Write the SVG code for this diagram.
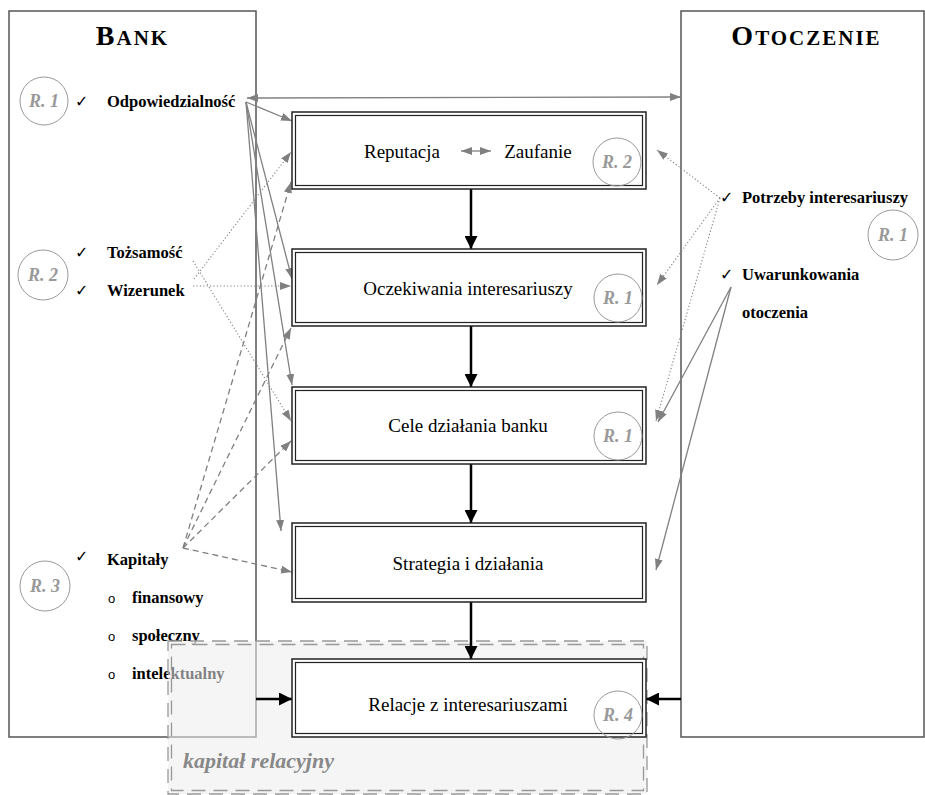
<svg xmlns="http://www.w3.org/2000/svg" width="925" height="795" viewBox="0 0 925 795">
  <defs>
    <marker id="ag" markerUnits="userSpaceOnUse" markerWidth="11" markerHeight="8" refX="11" refY="4" orient="auto-start-reverse">
      <path d="M0,0 L11,4 L0,8 z" fill="#808080"/>
    </marker>
    <marker id="ab" markerUnits="userSpaceOnUse" markerWidth="13" markerHeight="13" refX="13" refY="6.5" orient="auto">
      <path d="M0,0 L13,6.5 L0,13 z" fill="#000"/>
    </marker>
    <style>
      .frame { fill: #fff; stroke: #555; stroke-width: 1.5; }
      .title { font-family: "Liberation Serif", "Times New Roman", serif; font-weight: bold; fill: #000; letter-spacing: 2px; }
      .lbl { font-family: "Liberation Serif", "Times New Roman", serif; font-weight: bold; font-size: 16.5px; fill: #000; }
      .chk { font-family: "DejaVu Sans", sans-serif; font-size: 16px; font-weight: bold; fill: #000; }
      .bul { font-family: "Liberation Sans", Arial, sans-serif; font-size: 13px; fill: #000; }
      .ring { fill: none; stroke: #999; stroke-width: 1; }
      .rtxt { font-family: "Liberation Serif", "Times New Roman", serif; font-weight: bold; font-style: italic; font-size: 18px; fill: #999; text-anchor: middle; }
      .box { fill: #fff; stroke: #222; stroke-width: 1.5; }
      .boxin { fill: none; stroke: #222; stroke-width: 1.2; }
      .btxt { font-family: "Liberation Serif", "Times New Roman", serif; font-size: 19px; fill: #000; text-anchor: middle; }
      .gl { stroke: #808080; stroke-width: 1.3; fill: none; marker-end: url(#ag); }
      .dot { stroke-dasharray: 1.2 2.2; stroke-width: 1.1; }
      .dash { stroke-dasharray: 6 4; }
      .bl { stroke: #000; stroke-width: 2.5; fill: none; marker-end: url(#ab); }
      .zone { stroke: #999; stroke-width: 1.3; fill: none; stroke-dasharray: 14 8; }
    </style>
  </defs>

  <!-- Bank column -->
  <g id="bank">
    <rect class="frame" x="9" y="11" width="247" height="726"/>
    <text class="title" x="132.5" y="45" text-anchor="middle"><tspan font-size="28">B</tspan><tspan font-size="21">ANK</tspan></text>
    <circle class="ring" cx="44" cy="101" r="24"/>
    <text class="rtxt" x="44" y="107">R. 1</text>
    <text class="chk" x="75" y="107">✓</text>
    <text class="lbl" x="107" y="107">Odpowiedzialność</text>
    <circle class="ring" cx="43" cy="275" r="25"/>
    <text class="rtxt" x="43" y="281">R. 2</text>
    <text class="chk" x="75" y="258">✓</text>
    <text class="lbl" x="107" y="258">Tożsamość</text>
    <text class="chk" x="75" y="296">✓</text>
    <text class="lbl" x="107" y="296">Wizerunek</text>
    <circle class="ring" cx="45" cy="586" r="25"/>
    <text class="rtxt" x="45" y="592">R. 3</text>
    <text class="chk" x="75" y="562">✓</text>
    <text class="lbl" x="107" y="565">Kapitały</text>
    <text class="bul" x="108" y="603">o</text>
    <text class="lbl" x="132" y="603">finansowy</text>
    <text class="bul" x="108" y="641">o</text>
    <text class="lbl" x="132" y="641">społeczny</text>
    <text class="bul" x="108" y="679">o</text>
    <text class="lbl" x="132" y="679">intelektualny</text>
  </g>

  <!-- Environment column -->
  <g id="otoczenie">
    <rect class="frame" x="681" y="11" width="243" height="726"/>
    <text class="title" x="806.5" y="45" text-anchor="middle"><tspan font-size="28">O</tspan><tspan font-size="21">TOCZENIE</tspan></text>
    <text class="chk" x="720" y="203">✓</text>
    <text class="lbl" x="742" y="203">Potrzeby interesariuszy</text>
    <circle class="ring" cx="893" cy="235" r="25"/>
    <text class="rtxt" x="893" y="241">R. 1</text>
    <text class="chk" x="720" y="280">✓</text>
    <text class="lbl" x="742" y="280">Uwarunkowania</text>
    <text class="lbl" x="742" y="318">otoczenia</text>
  </g>

  <!-- relational capital zone -->
  <g id="kapital-relacyjny">
    <rect x="168" y="641" width="479" height="153" fill="#ececec" fill-opacity="0.55"/>
    <rect class="zone" x="168" y="641" width="479" height="153"/>
    <rect class="zone" x="171.5" y="644.5" width="472" height="146"/>
    <text x="183" y="768" font-family="Liberation Serif, Times New Roman, serif" font-weight="bold" font-style="italic" font-size="22" fill="#888">kapitał relacyjny</text>
  </g>

  <!-- connectors -->
  <g id="connectors">
    <!-- responsibility -->
    <line class="gl" x1="247" y1="98" x2="681" y2="97" marker-start="url(#ag)"/>
    <line class="gl" x1="246" y1="102" x2="292" y2="121"/>
    <line class="gl" x1="246" y1="102" x2="292" y2="279"/>
    <line class="gl" x1="246" y1="102" x2="292" y2="385"/>
    <line class="gl" x1="246" y1="102" x2="281" y2="531"/>
    <!-- identity / image -->
    <line class="gl dot" x1="193" y1="261" x2="291" y2="421"/>
    <line class="gl dot" x1="194" y1="279" x2="291" y2="152"/>
    <line class="gl dot" x1="193" y1="286" x2="291" y2="286"/>
    <!-- capitals -->
    <line class="gl dash" x1="183" y1="548" x2="291" y2="182"/>
    <line class="gl dash" x1="183" y1="548" x2="291" y2="328"/>
    <line class="gl dash" x1="183" y1="548" x2="291" y2="441"/>
    <line class="gl dash" x1="183" y1="548" x2="292" y2="572"/>
    <!-- stakeholder needs -->
    <line class="gl dot" x1="720" y1="198" x2="657" y2="150"/>
    <line class="gl dot" x1="720" y1="198" x2="657" y2="285"/>
    <line class="gl dot" x1="720" y1="198" x2="656" y2="421"/>
    <!-- environment conditions -->
    <line class="gl" x1="731" y1="287" x2="658" y2="422"/>
    <line class="gl" x1="731" y1="287" x2="656" y2="570"/>
    <!-- main flow -->
    <line class="bl" x1="471" y1="189" x2="471" y2="249"/>
    <line class="bl" x1="471" y1="326" x2="471" y2="387"/>
    <line class="bl" x1="471" y1="464" x2="471" y2="523"/>
    <line class="bl" x1="471" y1="602" x2="471" y2="659"/>
    <line class="bl" x1="256" y1="699" x2="292" y2="699"/>
    <line class="bl" x1="681" y1="699" x2="646" y2="699"/>
  </g>

  <g id="reputacja">
    <rect class="box" x="292" y="112" width="354" height="77"/>
    <rect class="boxin" x="295.5" y="115.5" width="347" height="70"/>
    <text class="btxt" x="402" y="158">Reputacja</text>
    <line x1="461" y1="151" x2="491" y2="151" stroke="#808080" stroke-width="1.3" marker-start="url(#ag)" marker-end="url(#ag)"/>
    <text class="btxt" x="538" y="158">Zaufanie</text>
    <circle class="ring" cx="617" cy="162" r="24"/>
    <text class="rtxt" x="617" y="168">R. 2</text>
  </g>

  <g id="oczekiwania">
    <rect class="box" x="292" y="249" width="354" height="77"/>
    <rect class="boxin" x="295.5" y="252.5" width="347" height="70"/>
    <text class="btxt" x="468" y="295">Oczekiwania interesariuszy</text>
    <circle class="ring" cx="618" cy="298" r="24"/>
    <text class="rtxt" x="618" y="304">R. 1</text>
  </g>

  <g id="cele">
    <rect class="box" x="292" y="387" width="354" height="77"/>
    <rect class="boxin" x="295.5" y="390.5" width="347" height="70"/>
    <text class="btxt" x="468" y="432">Cele działania banku</text>
    <circle class="ring" cx="618" cy="436" r="24"/>
    <text class="rtxt" x="618" y="442">R. 1</text>
  </g>

  <g id="strategia">
    <rect class="box" x="292" y="523" width="354" height="79"/>
    <rect class="boxin" x="295.5" y="526.5" width="347" height="72"/>
    <text class="btxt" x="468" y="570">Strategia i działania</text>
  </g>

  <g id="relacje">
    <rect class="box" x="292" y="659" width="354" height="78"/>
    <rect class="boxin" x="295.5" y="662.5" width="347" height="71"/>
    <text class="btxt" x="468" y="711">Relacje z interesariuszami</text>
    <circle class="ring" cx="618" cy="715" r="24"/>
    <text class="rtxt" x="618" y="721">R. 4</text>
  </g>
</svg>
